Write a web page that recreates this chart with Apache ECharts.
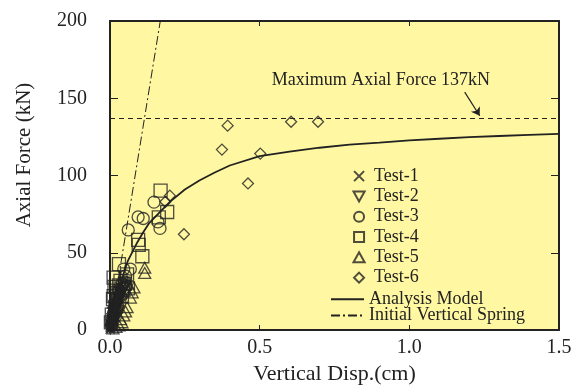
<!DOCTYPE html>
<html>
<head>
<meta charset="utf-8">
<script src="https://cdn.jsdelivr.net/npm/echarts@6/dist/echarts.min.js"></script>
<style>
  html, body { margin: 0; padding: 0; background: #fff; }
  #chart { width: 582px; height: 390px; }
</style>
</head>
<body>
<div id="chart"></div>
<script>
// axis ticks
const xTicks = [0, 0.5, 1.0, 1.5]
const yTicks = [0, 50, 100, 150, 200]

// test data [disp (cm), force (kN)]
const test1 = [[0.000,0.5],[0.002,1.5],[0.003,3],[0.001,4],[0.005,5],[0.004,6.5],[0.007,7.5],[0.006,9],[0.009,10],[0.008,11.5],[0.011,12.5],[0.012,14],[0.014,15],[0.013,16.5],[0.016,17.5],[0.018,19],[0.017,20.5],[0.020,21.5],[0.022,23],[0.024,24.5],[0.026,26],[0.028,27],[0.031,28.5],[0.034,30],[0.030,25],[0.019,14],[0.010,6],[0.015,10],[0.000,2],[0.002,8],[0.005,12],[0.009,16]]
const test2 = [[0.001,0.5],[0.003,2],[0.005,3.5],[0.007,5],[0.009,6.5],[0.011,8],[0.013,9.5],[0.015,11],[0.018,12.5],[0.020,14],[0.023,15.5],[0.026,17],[0.029,18.5],[0.032,20],[0.035,21.5],[0.038,23],[0.042,24.5],[0.045,26],[0.048,27.5],[0.052,29],[0.025,21],[0.020,18],[0.033,24],[0.040,20],[0.030,13],[0.017,7],[0.022,10]]
const test3 = [[0.061,64.8],[0.094,73.2],[0.111,72.2],[0.147,82.8],[0.167,65.8],[0.160,70],[0.046,39.5],[0.068,39.5],[0.052,35],[0.040,30],[0.030,26],[0.045,27],[0.020,20],[0.025,16],[0.012,11],[0.008,7],[0.004,3],[0.015,14],[0.035,22],[0.050,31]]
const test4 = [[0.169,90.2],[0.191,76.4],[0.163,73],[0.094,58.4],[0.096,55.2],[0.108,47.8],[0.030,42.7],[0.012,34],[0.057,36],[0.035,31.8],[0.050,30],[0.015,28],[0.030,29],[0.045,26],[0.060,27],[0.025,24],[0.010,20],[0.018,15],[0.006,10],[0.003,5],[0.012,22],[0.040,22]]
const test5 = [[0.116,40.3],[0.116,37],[0.080,27.6],[0.068,21],[0.057,14.8],[0.046,9.5],[0.060,30],[0.040,5],[0.030,3],[0.020,2],[0.010,1],[0.074,24.4],[0.052,12],[0.035,7]]
const test6 = [[0.393,132.3],[0.605,134.8],[0.695,134.8],[0.374,116.8],[0.502,114.2],[0.461,94.9],[0.247,62],[0.200,87],[0.185,83],[0.010,8],[0.020,15],[0.030,22],[0.040,28],[0.005,3],[0.025,18],[0.050,30]]

// analysis model curve and initial spring
const modelCurve = [[0,0],[0.01,9],[0.02,17],[0.03,25],[0.046,37],[0.06,45],[0.089,56],[0.11,63],[0.13,69],[0.16,75],[0.2,83],[0.25,91],[0.3,97],[0.35,102],[0.4,106.5],[0.5,112.5],[0.6,115.5],[0.7,118],[0.8,120],[0.9,121.3],[1.0,122.7],[1.1,123.8],[1.2,124.8],[1.3,125.6],[1.4,126.3],[1.5,127]]
const springLine = [[0,0],[0.168,200]]
const maxForce = 137

const serif = "'Liberation Serif', 'Times New Roman', serif"
const ink = '#222'

const chart = echarts.init(document.getElementById('chart'))

function scatter(name, data, symbol, size) {
  return {
    name, type: 'scatter', data, symbol, symbolSize: size, symbolKeepAspect: true,
    itemStyle: { color: 'none', borderColor: ink, borderWidth: 1.3 },
    z: 3
  }
}

const markerNames = ['Test-1','Test-2','Test-3','Test-4','Test-5','Test-6']

chart.setOption({
  animation: false,
  textStyle: { fontFamily: serif, color: ink },
  grid: { left: 110, right: 23, top: 21, bottom: 55, show: true, backgroundColor: '#fff7a1', borderWidth: 0 },
  xAxis: [{
    type: 'value', min: 0, max: 1.5, interval: 0.5,
    name: 'Vertical Disp.(cm)', nameLocation: 'middle', nameGap: 31,
    nameTextStyle: { fontSize: 22, color: ink, fontFamily: serif },
    axisLine: { lineStyle: { color: ink, width: 2 } },
    axisTick: { inside: true, length: 5, lineStyle: { color: ink } },
    axisLabel: { fontSize: 20, color: ink, margin: 8, formatter: v => v.toFixed(1) },
    splitLine: { show: false }
  }, {
    type: 'value', min: 0, max: 1.5, interval: 0.5, position: 'top',
    axisLine: { onZero: false, lineStyle: { color: ink, width: 2 } },
    axisTick: { inside: true, length: 5, lineStyle: { color: ink } },
    axisLabel: { show: false }, splitLine: { show: false }
  }],
  yAxis: [{
    type: 'value', min: 0, max: 200, interval: 50,
    axisLine: { show: true, lineStyle: { color: ink, width: 2 } },
    axisTick: { show: true, inside: true, length: 8, lineStyle: { color: ink } },
    axisLabel: { fontSize: 20, color: ink, margin: 23 },
    splitLine: { show: false }
  }, {
    type: 'value', min: 0, max: 200, interval: 50, position: 'right',
    axisLine: { show: true, onZero: false, lineStyle: { color: ink, width: 2 } },
    axisTick: { show: true, inside: true, length: 8, lineStyle: { color: ink } },
    axisLabel: { show: false }, splitLine: { show: false }
  }],
  graphic: [{
    type: 'text', x: 24, y: 155, rotation: Math.PI / 2,
    style: { text: 'Axial Force (kN)', font: '21px ' + serif, fill: ink, align: 'center', verticalAlign: 'middle' }
  }],
  legend: [{
    data: markerNames, orient: 'vertical', left: 351, top: 166, padding: 0,
    itemWidth: 20, itemHeight: 10, itemGap: 0, symbolKeepAspect: true,
    textStyle: { fontSize: 18, color: ink, fontFamily: serif, lineHeight: 20.3 }
  }, {
    data: ['Analysis Model', 'Initial Vertical Spring'],
    orient: 'vertical', left: 330, top: 290, padding: 0,
    itemWidth: 33, itemHeight: 10, itemGap: -2,
    itemStyle: { opacity: 0 },
    textStyle: { fontSize: 18, color: ink, fontFamily: serif, lineHeight: 18.3 }
  }],
  series: [
    scatter('Test-1', test1, 'path://M0,0 L10,10 M10,0 L0,10', 9),
    scatter('Test-2', test2, 'path://M0,0 L10,0 L5,9 Z', 10),
    scatter('Test-3', test3, 'circle', 12),
    scatter('Test-4', test4, 'path://M0,0 L10,0 L10,10 L0,10 Z', 13),
    scatter('Test-5', test5, 'path://M5,0 L10,9 L0,9 Z', 12),
    scatter('Test-6', test6, 'path://M5,0 L10,5 L5,10 L0,5 Z', 11),
    {
      name: 'Analysis Model', type: 'line', data: modelCurve, symbol: 'none',
      lineStyle: { color: ink, width: 1.8 }, itemStyle: { color: ink }, z: 4
    },
    {
      name: 'Initial Vertical Spring', type: 'line', data: springLine, symbol: 'none',
      lineStyle: { color: ink, width: 1, type: [9, 3, 2, 3] }, itemStyle: { color: ink }, z: 2
    },
    {
      name: 'max', type: 'line', data: [], symbol: 'none',
      markLine: {
        silent: true, symbol: ['none', 'none'], label: { show: false },
        lineStyle: { color: ink, width: 1, type: [5, 4] },
        data: [
          { yAxis: maxForce },
          [{ coord: [1.185, 154], symbol: 'none', lineStyle: { type: 'solid', width: 1.2 } },
           { coord: [1.235, 138.7], symbol: 'arrow', symbolSize: 8 }]
        ]
      },
      markPoint: {
        silent: true, symbol: 'circle', symbolSize: 0,
        label: { show: true, position: 'right', distance: 0, fontSize: 18, color: ink, fontFamily: serif, formatter: 'Maximum Axial Force 137kN' },
        data: [{ coord: [0.54, 161.8] }]
      }
    }
  ]
})
</script>
</body>
</html>
